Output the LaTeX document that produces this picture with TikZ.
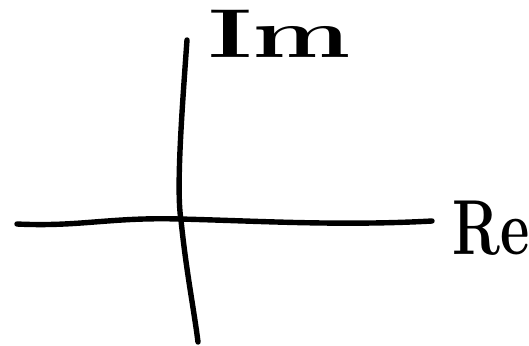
\documentclass[tikz,border=0pt]{standalone}
\usepackage{tikz}
\usetikzlibrary{positioning,calc}
\tikzset{
  axisline/.style={line width=2.7pt,line cap=round,line join=round},
  axislab/.style={inner sep=0pt,font=\fontsize{30}{30}\selectfont\bfseries}
}

\begin{document}
\begin{tikzpicture}[x=0.5pt,y=-0.5pt]
  \useasboundingbox (0,0) rectangle (529,345);
  % real axis
  \coordinate (reL) at (17,224);
  \coordinate (reR) at (432,221);
  \draw[axisline] (reL) .. controls (80,227) and (110,217) .. (180,219)
    .. controls (260,221) and (340,226) .. (reR);
  % imaginary axis
  \coordinate (imT) at (187,40);
  \coordinate (imB) at (198,342);
  \draw[axisline] (imT) .. controls (182,110) and (176,190) .. (181,220)
    .. controls (186,270) and (194,310) .. (imB);
  % labels
  \node[axislab,anchor=base west] (re) at (452,254) {\scalebox{0.95}[1.3]{Re}};
  \node[axislab,anchor=base west] (im) at (208,57) {\scalebox{1.75}[1.15]{Im}};
\end{tikzpicture}
\end{document}
